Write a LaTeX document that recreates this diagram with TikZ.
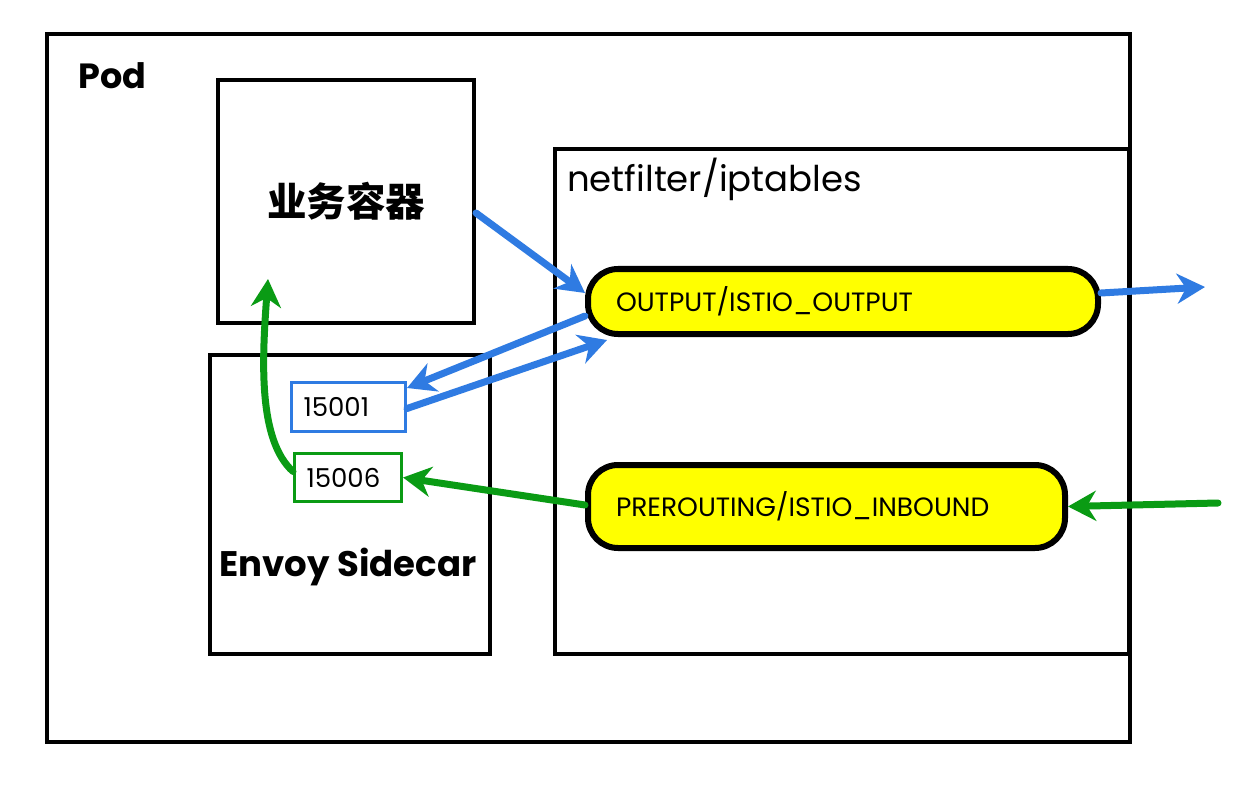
\documentclass[tikz,border=0pt]{standalone}
\usepackage{fontspec}
\setmainfont{Poppins}
\newfontfamily\cjk{Noto Sans CJK SC}
\usetikzlibrary{arrows.meta,calc}
\definecolor{eblue}{RGB}{47,123,226}
\definecolor{egreen}{RGB}{10,155,20}
\definecolor{pillyellow}{RGB}{255,255,0}
\begin{document}
\begin{tikzpicture}[x=1pt,y=-1pt,
  box/.style={draw=black,line width=4pt,anchor=north west,inner sep=0pt},
  title/.style={anchor=north west,inner sep=0pt},
  pill/.style={draw=black,fill=pillyellow,line width=6pt,rounded corners=30pt,
    anchor=north west,align=left,inner ysep=0pt,inner xsep=28pt,
    font=\fontsize{26.5}{30}\selectfont},
  port/.style={line width=3pt,anchor=north west,align=left,inner ysep=0pt,
    inner xsep=12pt,fill=white,font=\fontsize{26}{30}\selectfont},
  bluearrow/.style={draw=eblue,line width=7pt,line cap=round,
    -{Stealth[length=28pt,width=30pt,inset=9pt]}},
  greenarrow/.style={draw=egreen,line width=7pt,line cap=round,
    -{Stealth[length=28pt,width=30pt,inset=9pt]}}]
\useasboundingbox (0,0) rectangle (1252,794);
\fill[white] (0,0) rectangle (1252,794);

% Pod
\node[box,minimum width=1083pt,minimum height=708pt] (pod) at (45,32) {};
\node[title,font=\fontsize{35}{40}\selectfont\bfseries] (podt) at (78,62) {Pod};

% app container
\node[box,minimum width=256pt,minimum height=243pt,anchor=center,
  font=\cjk\bfseries\fontsize{39.5}{44}\selectfont] (app) at (346,201.5) {业务容器};

% envoy
\node[box,minimum width=280pt,minimum height=299pt] (envoy) at (208,353) {};
\node[font=\fontsize{35.5}{40}\selectfont\bfseries,inner sep=0pt] (envt) at (348,567) {Envoy Sidecar};

% netfilter
\node[box,minimum width=574pt,minimum height=505pt] (nf) at (553,147) {};
\node[title,font=\fontsize{35.5}{40}\selectfont] (nft) at (567,158) {netfilter/iptables};

% pills
\node[pill,text width=454pt,minimum height=65pt] (out) at (585,266) {OUTPUT/ISTIO\_OUTPUT};
\node[pill,text width=421pt,minimum height=83pt] (in) at (585,462) {PREROUTING/ISTIO\_INBOUND};

% ports
\node[port,draw=eblue,text width=90pt,minimum height=49pt] (p1) at (290,381) {15001};
\node[port,draw=egreen,text width=83pt,minimum height=48pt] (p6) at (293,452) {15006};

% free ends
\coordinate (extout) at (1205,287);
\coordinate (extin) at (1218,503);
\coordinate (appin) at (268,279);

% arrows
\draw[bluearrow] ([yshift=-11.5pt]app.east) -- ([yshift=8.5pt]out.west);
\draw[bluearrow] ([yshift=8.5pt]out.east) -- (extout);
\draw[bluearrow] ([yshift=-14.5pt]out.west) -- ([yshift=-7pt]p1.north east);
\draw[bluearrow] ([yshift=-1.5pt]p1.east) -- ($(out.south west)+(22,3)$);
\draw[greenarrow] (extin) -- (in.east);
\draw[greenarrow] ([yshift=1.5pt]in.west) -- (p6.east);
\draw[greenarrow] ([yshift=6pt]p6.west) .. controls (258,440) and (262,360) .. (appin);
\end{tikzpicture}
\end{document}
